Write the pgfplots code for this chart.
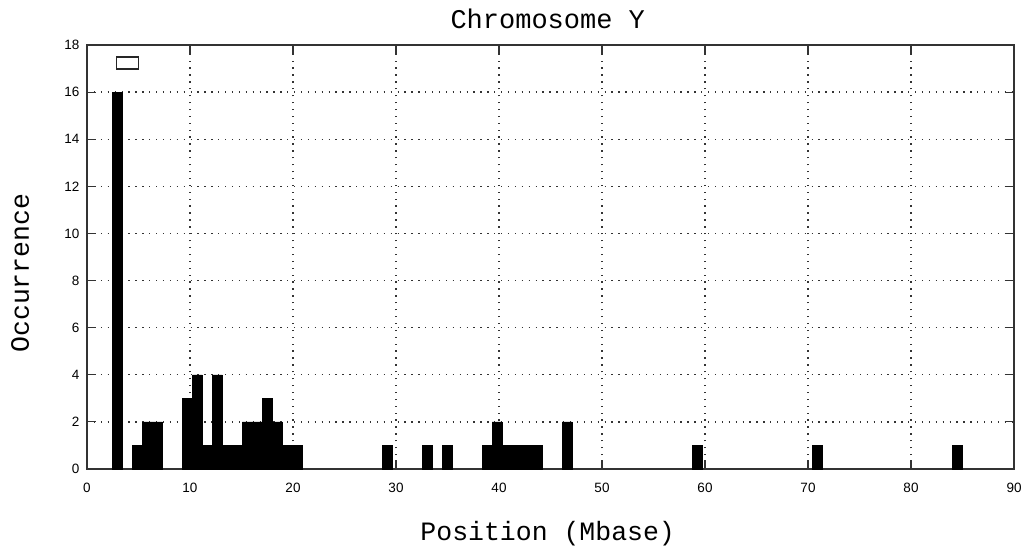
\documentclass[border=0pt]{standalone}
\usepackage{pgfplots}
\pgfplotsset{compat=1.18}
\usepackage{fontspec}
\setmainfont{Liberation Sans}
\newfontfamily\monofont{Liberation Mono}
\begin{document}
\begin{tikzpicture}
\useasboundingbox (0,0) rectangle (1023pt,547pt);
\begin{axis}[
  at={(87pt,78pt)}, anchor=south west,
  width=927pt, height=424pt, scale only axis,
  xmin=0, xmax=90, ymin=0, ymax=18,
  xtick={0,10,...,90}, ytick={0,2,...,18},
  tick align=inside, major tick length=9pt,
  tick style={black!80, line width=1.2pt},
  /pgf/number format/assume math mode=true,
  tick label style={font=\fontsize{13.5}{15}\selectfont},
  yticklabel style={xshift=-4pt},
  xticklabel style={yshift=-11pt},
  grid=major,
  major grid style={black!80, line width=1.3pt, dash pattern=on 1.3pt off 5.6pt},
  axis line style={black!80, line width=1.3pt},
  title={Chromosome Y},
  title style={font=\monofont\fontsize{27}{30}\selectfont, at={(axis description cs:0.497,1)}, anchor=base, yshift=10pt},
  xlabel={Position (Mbase)},
  xlabel style={font=\monofont\fontsize{26.5}{30}\selectfont, at={(axis description cs:0.497,0)}, anchor=base, yshift=-71pt},
  ylabel={Occurrence},
  ylabel style={font=\monofont\fontsize{26.5}{30}\selectfont, at={(axis description cs:-0.0626,0.462)}, anchor=base, rotate=0},
  legend style={at={(axis description cs:0.0442,0.9575)}, anchor=center, draw=none, fill=none, inner sep=0pt, nodes={inner sep=0pt}},
]
\addplot[ybar, fill=black, draw=black, bar width=0.9705,
  legend image code/.code={\draw[black!85, line width=1.2pt, fill=white] (0pt,-6pt) rectangle (22pt,6pt);}]
coordinates {
(2.945,16) (4.886,1) (5.857,2) (6.827,2) (9.739,3) (10.709,4) (11.680,1)
(12.650,4) (13.621,1) (14.591,1) (15.562,2) (16.532,2) (17.503,3) (18.473,2)
(19.444,1) (20.414,1) (29.149,1) (33.031,1) (34.972,1) (38.854,1) (39.824,2)
(40.795,1) (41.765,1) (42.736,1) (43.706,1) (46.618,2) (59.234,1) (70.880,1)
(84.467,1)
};
\addlegendentry{}
\end{axis}
\end{tikzpicture}
\end{document}
